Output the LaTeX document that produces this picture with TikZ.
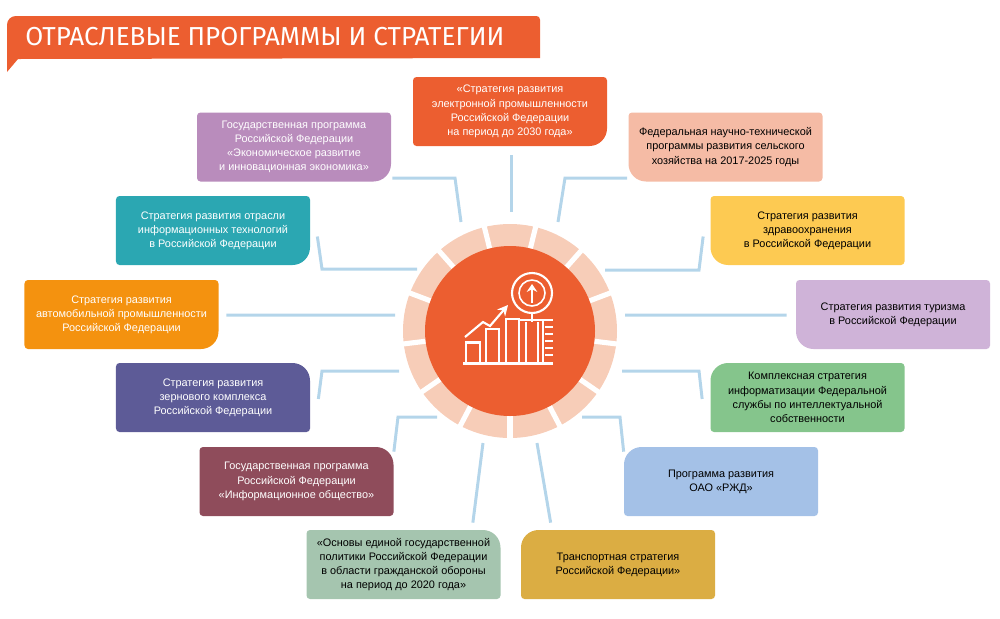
\documentclass[tikz,border=0pt]{standalone}
\usepackage{fontspec}
\setmainfont{Liberation Sans}
\newfontfamily\titlefont{Fira Sans}
\usetikzlibrary{arrows.meta}
\definecolor{barorange}{HTML}{EC5E30}
\definecolor{ringpeach}{HTML}{F7CDB8}
\definecolor{linkblue}{HTML}{B4D5EA}
\definecolor{econcol}{HTML}{B98CBC}
\definecolor{agrocol}{HTML}{F5BBA5}
\definecolor{infotechcol}{HTML}{2BA7B2}
\definecolor{healthcol}{HTML}{FDCA52}
\definecolor{autocol}{HTML}{F4920F}
\definecolor{tourismcol}{HTML}{CFB3D8}
\definecolor{graincol}{HTML}{5D5B97}
\definecolor{patentcol}{HTML}{85C58C}
\definecolor{infosoccol}{HTML}{8F4C5B}
\definecolor{railcol}{HTML}{A4C1E7}
\definecolor{defencecol}{HTML}{A5C5AF}
\definecolor{transportcol}{HTML}{DBAD43}
\newcommand\cornerfill[5]{\fill[#1,rounded corners=#2] (path picture bounding box.north west) [rounded corners=#3] -- (path picture bounding box.north east) [rounded corners=#4] -- (path picture bounding box.south east) [rounded corners=#5] -- (path picture bounding box.south west) [rounded corners=#2] -- cycle;}
\tikzset{
	catbox/.style={minimum width=3.88cm, minimum height=1.38cm, inner sep=0pt, align=center, font=\fontsize{6.2pt}{8.05pt}\selectfont},
	boxtl/.style={catbox, path picture={\cornerfill{#1}{10pt}{2pt}{2pt}{2pt}}},
	boxtr/.style={catbox, path picture={\cornerfill{#1}{2pt}{10pt}{2pt}{2pt}}},
	boxbr/.style={catbox, path picture={\cornerfill{#1}{2pt}{2pt}{10pt}{2pt}}},
	boxbl/.style={catbox, path picture={\cornerfill{#1}{2pt}{2pt}{2pt}{10pt}}},
	link/.style={line width=1.7pt, color=linkblue},
	iconline/.style={line width=1.2pt, color=white}
}
\begin{document}
\begin{tikzpicture}[x=0.2mm, y=-0.2mm]
	\useasboundingbox (0, 0) rectangle (1000, 618);

	%%%%% TITLE %%%%%
	\fill[barorange, rounded corners=2pt] (7, 72) [rounded corners=5pt] -- (7, 16) [rounded corners=2pt] -- (540, 16) [sharp corners] -- (540, 58) -- (18, 59) -- cycle;
	\node[anchor=west, inner sep=0pt, text=white, font=\titlefont\fontsize{14.8pt}{18pt}\selectfont] (title) at (25, 36.5) {ОТРАСЛЕВЫЕ ПРОГРАММЫ И СТРАТЕГИИ};

	%%%%% HUB %%%%%
	\fill[ringpeach] (510, 331) circle (107);
	\foreach \k in {0,...,12}
		\draw[white, line width=2.9pt] (510, 331) -- ++({90+\k*360/13}:112);
	\node[circle, fill=barorange, minimum size=3.4cm, inner sep=0pt] (hub) at (510, 331) {};

	%%%%% ICON %%%%%
	\draw[iconline] (463, 363.5) -- (553, 363.5);
	\draw[iconline] (466, 362) |- (480, 342.5) -- (480, 362);
	\draw[iconline] (486, 362) |- (499, 329) -- (499, 362);
	\draw[iconline] (506, 362) |- (519, 319) -- (519, 362);
	\draw[iconline] (526, 362) -- (526, 322) (538, 322) -- (538, 362);
	\draw[iconline, line width=0.7pt] (520, 320) -- (553, 320);
	\draw[iconline] (543, 320) -- (543, 362);
	\foreach \y in {327,334,341,348,355}
		\draw[iconline] (545, \y) -- (553, \y);
	\draw[iconline, -{Stealth[length=6pt, width=6pt]}] (465, 337) -- (483, 322) -- (490, 326) -- (508, 305);
	\draw[iconline, fill=barorange] (532, 293) circle (20);
	\draw[iconline, line width=0.9pt] (532, 293) circle (13);
	\draw[iconline] (532, 313) -- (532, 322);
	\draw[iconline, line width=1.4pt, -{Stealth[length=4.5pt, width=6pt]}] (532, 303) -- (532, 284);

	%%%%% BOXES %%%%%
	\node[boxbr=barorange, text=white] (electro) at (510, 111.5) {«Стратегия развития\\электронной промышленности\\Российской Федерации\\на период до 2030 года»};
	\node[boxbr=econcol, text=white] (econ) at (294, 147) {Государственная программа\\Российской Федерации\\«Экономическое развитие\\и инновационная экономика»};
	\node[boxbl=agrocol, text=black] (agro) at (725.5, 147) {Федеральная научно-технической\\программы развития сельского\\хозяйства на 2017-2025 годы};
	\node[boxbr=infotechcol, text=white] (infotech) at (213, 230.5) {Стратегия развития отрасли\\информационных технологий\\в Российской Федерации};
	\node[boxbl=healthcol, text=black] (health) at (807.5, 230.5) {Стратегия развития\\здравоохранения\\в Российской Федерации};
	\node[boxbr=autocol, text=white] (auto) at (121.5, 314.5) {Стратегия развития\\автомобильной промышленности\\Российской Федерации};
	\node[boxbl=tourismcol, text=black] (tourism) at (893, 314.5) {Стратегия развития туризма\\в Российской Федерации};
	\node[boxtr=graincol, text=white] (grain) at (213, 397.5) {Стратегия развития\\зернового комплекса\\Российской Федерации};
	\node[boxtl=patentcol, text=black] (patent) at (807.5, 397.5) {Комплексная стратегия\\информатизации Федеральной\\службы по интеллектуальной\\собственности};
	\node[boxtr=infosoccol, text=white] (infosoc) at (296.5, 481.5) {Государственная программа\\Российской Федерации\\«Информационное общество»};
	\node[boxtl=railcol, text=black] (rail) at (721, 481.5) {Программа развития\\ОАО «РЖД»};
	\node[boxtr=defencecol, text=black] (defence) at (403.5, 564.5) {«Основы единой государственной\\политики Российской Федерации\\в области гражданской обороны\\на период до 2020 года»};
	\node[boxtl=transportcol, text=black] (transport) at (618, 564.5) {Транспортная стратегия\\Российской Федерации»};

	%%%%% LINKS %%%%%
	\coordinate (electro-end) at (511, 212);
	\coordinate (econ-bend) at (455, 178);
	\coordinate (econ-end) at (461, 222);
	\coordinate (agro-bend) at (565, 178);
	\coordinate (agro-end) at (558, 222);
	\coordinate (infotech-bend) at (322, 269);
	\coordinate (infotech-end) at (417, 269);
	\coordinate (health-bend) at (699, 270);
	\coordinate (health-end) at (605, 270);
	\coordinate (auto-end) at (395, 315);
	\coordinate (tourism-end) at (625, 315);
	\coordinate (grain-bend) at (322, 371);
	\coordinate (grain-end) at (399, 371);
	\coordinate (patent-bend) at (699, 371);
	\coordinate (patent-end) at (622, 371);
	\coordinate (infosoc-bend) at (398, 417);
	\coordinate (infosoc-end) at (437, 417);
	\coordinate (rail-bend) at (620, 417);
	\coordinate (rail-end) at (582, 417);
	\coordinate (defence-end) at (483, 443);
	\coordinate (transport-end) at (537, 443);

	\draw[link] ([shift={(1, 9)}]electro.south) -- (electro-end);
	\draw[link] ([shift={(1, 31)}]econ.east) -- (econ-bend) -- (econ-end);
	\draw[link] ([shift={(-1, 31)}]agro.west) -- (agro-bend) -- (agro-end);
	\draw[link] ([shift={(7, 6)}]infotech.east) -- (infotech-bend) -- (infotech-end);
	\draw[link] ([shift={(-7, 6)}]health.west) -- (health-bend) -- (health-end);
	\draw[link] ([shift={(7.5, 0.5)}]auto.east) -- (auto-end);
	\draw[link] ([shift={(-9, 0.5)}]tourism.west) -- (tourism-end);
	\draw[link] ([shift={(8, 1.5)}]grain.east) -- (grain-bend) -- (grain-end);
	\draw[link] ([shift={(-8, 1.5)}]patent.west) -- (patent-bend) -- (patent-end);
	\draw[link] ([shift={(0, 5)}]infosoc.north east) -- (infosoc-bend) -- (infosoc-end);
	\draw[link] ([shift={(0, 5)}]rail.north west) -- (rail-bend) -- (rail-end);
	\draw[link] ([shift={(-28, -7)}]defence.north east) -- (defence-end);
	\draw[link] ([shift={(30, -7)}]transport.north west) -- (transport-end);
\end{tikzpicture}
\end{document}
